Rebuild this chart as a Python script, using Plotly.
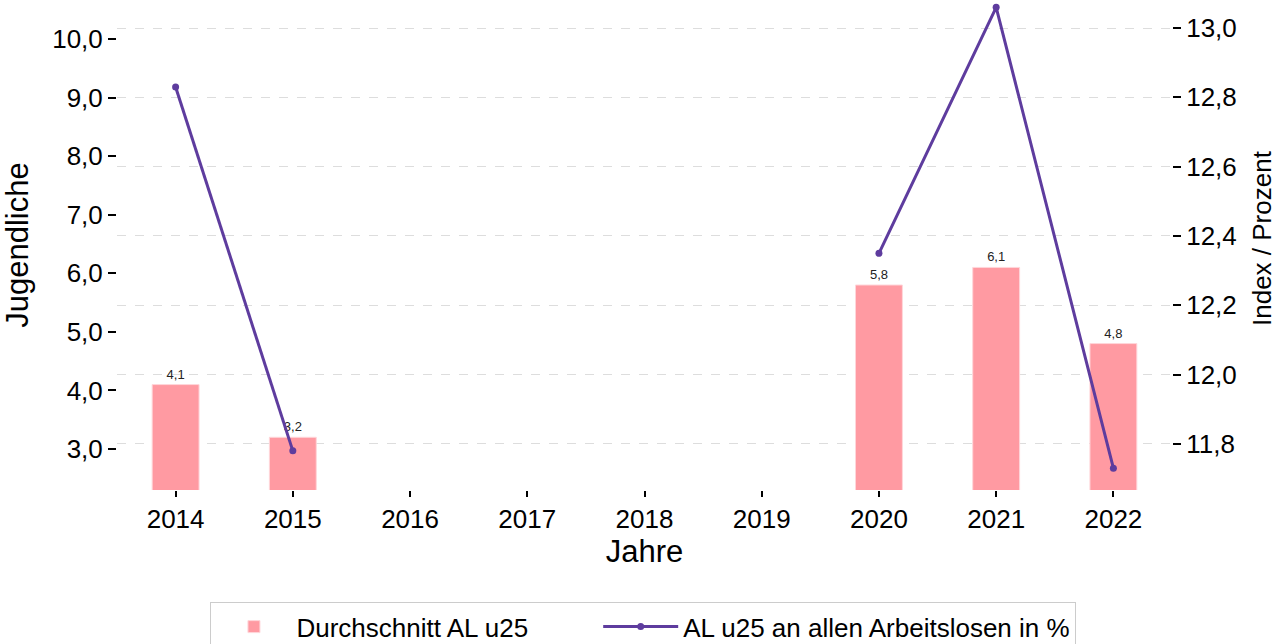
import plotly.graph_objects as go

years_all = [2014, 2015, 2016, 2017, 2018, 2019, 2020, 2021, 2022]
bar_values = [4.1, 3.2, None, None, None, None, 5.8, 6.1, 4.8]
line_values = [12.83, 11.78, None, None, None, None, 12.35, 13.06, 11.73]
left_ticks = [3, 4, 5, 6, 7, 8, 9, 10]
right_ticks = [11.8, 12.0, 12.2, 12.4, 12.6, 12.8, 13.0]

BAR_COLOR = "#FF9AA2"
LINE_COLOR = "#5E3C9E"
FONT = "Liberation Sans, Arial, sans-serif"
PAD = "\u00a0" * 9

fig = go.Figure()
fig.add_trace(go.Bar(
    x=years_all, y=bar_values, name="Durchschnitt AL u25" + PAD,
    marker=dict(color=BAR_COLOR, line=dict(color="#FFD6DA", width=1)),
    width=0.4,
    texttemplate="%{y:.1f}", textposition="outside",
    textfont=dict(size=13, color="#222222"),
    cliponaxis=False,
))
fig.add_trace(go.Scatter(
    x=years_all, y=line_values, name="AL u25 an allen Arbeitslosen in %",
    mode="lines+markers", yaxis="y2", connectgaps=False,
    line=dict(color=LINE_COLOR, width=3),
    marker=dict(color=LINE_COLOR, size=7),
    cliponaxis=False,
))

fig.add_annotation(
    text="Index / Prozent", textangle=-90,
    xref="paper", yref="paper",
    x=1 + (1262 - 1172) / 1055, y=1 - 238 / 490,
    xanchor="center", yanchor="middle", showarrow=False,
    font=dict(size=26, family=FONT, color="black"),
)

fig.update_layout(
    width=1277, height=644,
    margin=dict(l=117, r=105, t=0, b=154, autoexpand=False),
    paper_bgcolor="white", plot_bgcolor="white",
    separators=",.",
    font=dict(family=FONT, size=26, color="black"),
    showlegend=True,
    legend=dict(
        orientation="h", x=0.499, xanchor="center", y=-0.229, yanchor="top",
        bordercolor="#CCCCCC", borderwidth=1, font=dict(size=26),
        itemwidth=75,
    ),
    xaxis=dict(
        range=[2013.5, 2022.5], tickmode="array", tickvals=years_all,
        ticktext=[str(y) for y in years_all],
        ticks="outside", ticklen=6, tickcolor="black", tickwidth=1.5,
        showgrid=False, showline=False, zeroline=False,
        title=dict(text="Jahre", standoff=4),
    ),
    yaxis=dict(
        range=[2.3, 10.666], tickmode="array", tickvals=left_ticks,
        tickformat=".1f",
        ticks="outside", ticklen=8, tickcolor="black", tickwidth=1.5,
        showgrid=False, showline=False, zeroline=False,
        title=dict(text="Jugendliche", standoff=19),
    ),
    yaxis2=dict(
        overlaying="y", side="right",
        range=[11.667, 13.081], tickmode="array", tickvals=right_ticks,
        tickformat=".1f",
        ticks="outside", ticklen=8, tickcolor="black", tickwidth=1.5,
        showgrid=True, gridcolor="#DDDDDD", griddash="dash", gridwidth=1,
        showline=False, zeroline=False,
    ),
)

fig.write_html(
    "out.html",
    config={"displayModeBar": False},
    post_script="document.body.style.margin='0';document.body.style.overflow='hidden';",
)
